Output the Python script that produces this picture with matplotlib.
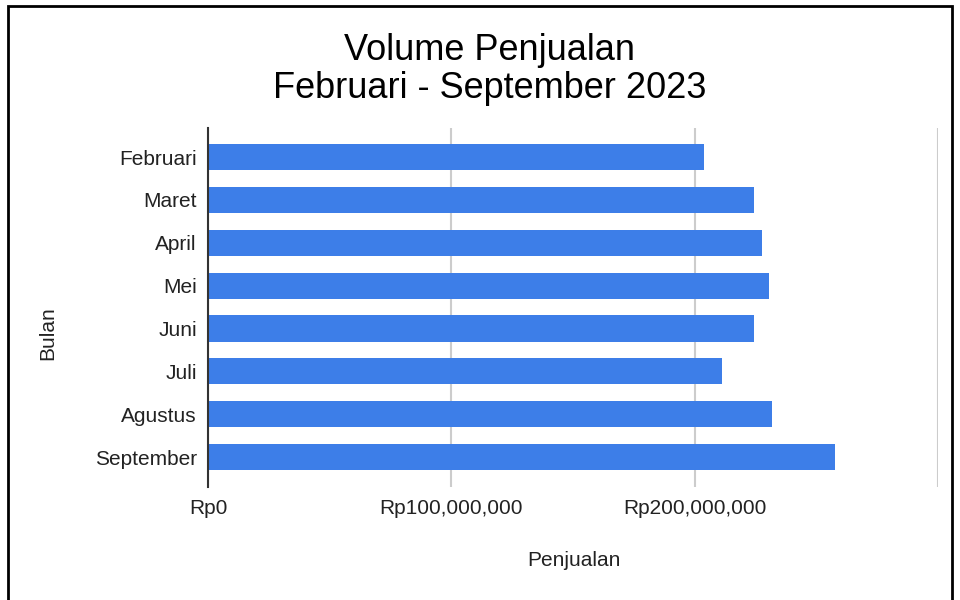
import matplotlib.pyplot as plt
from matplotlib.patches import Rectangle
from matplotlib.ticker import FuncFormatter

plt.rcParams['font.family'] = ['Liberation Sans', 'DejaVu Sans']

# monthly sales (Rp)
bulan = ['Februari', 'Maret', 'April', 'Mei', 'Juni', 'Juli', 'Agustus', 'September']
penjualan = [204_000_000, 224_500_000, 227_600_000, 230_500_000,
             224_500_000, 211_400_000, 231_900_000, 257_800_000]
xticks = [0, 100_000_000, 200_000_000, 300_000_000]

fig = plt.figure(figsize=(9.6, 6), dpi=100)
ax = fig.add_axes([208 / 960, 1 - 487 / 600, 730 / 960, 359 / 600])

ax.barh(range(len(bulan)), penjualan, height=0.61, color='#3d7ee8', zorder=3)

ax.set_xlim(0, 300_000_000)
ax.set_ylim(7.7, -0.68)
ax.set_yticks(range(len(bulan)))
ax.set_yticklabels(bulan)
ax.set_xticks(xticks)

def rupiah(v, pos):
    if v >= 300_000_000:
        return ''
    return f'Rp{int(v):,}'

ax.xaxis.set_major_formatter(FuncFormatter(rupiah))
ax.tick_params(axis='both', length=0, labelsize=15, colors='#222222')
ax.tick_params(axis='x', pad=9)
ax.tick_params(axis='y', pad=8)

# light vertical gridlines
ax.grid(axis='x', color='#cccccc', linewidth=1.5, zorder=0)
ax.grid(axis='y', visible=False)
for s in ['top', 'right', 'bottom']:
    ax.spines[s].set_visible(False)
ax.spines['left'].set_color('#333333')
ax.spines['left'].set_linewidth(1.5)
ax.spines['left'].set_zorder(4)

# titles and axis labels
fig.text(490 / 960, 1 - 50 / 600, 'Volume Penjualan', ha='center', va='center', fontsize=26)
fig.text(490 / 960, 1 - 88 / 600, 'Februari - September 2023', ha='center', va='center', fontsize=26)
fig.text(574 / 960, 1 - 560 / 600, 'Penjualan', ha='center', va='center', fontsize=15, color='#222222')
fig.text(48 / 960, 1 - 333 / 600, 'Bulan', ha='center', va='center', rotation=90, fontsize=15, color='#222222')

# frame around the whole picture
fig.patches.append(Rectangle((8 / 960, -0.02), 944 / 960, 1.02 - 6 / 600,
                             transform=fig.transFigure, fill=False,
                             edgecolor='black', linewidth=2))

fig.savefig('out.png', dpi=100)
